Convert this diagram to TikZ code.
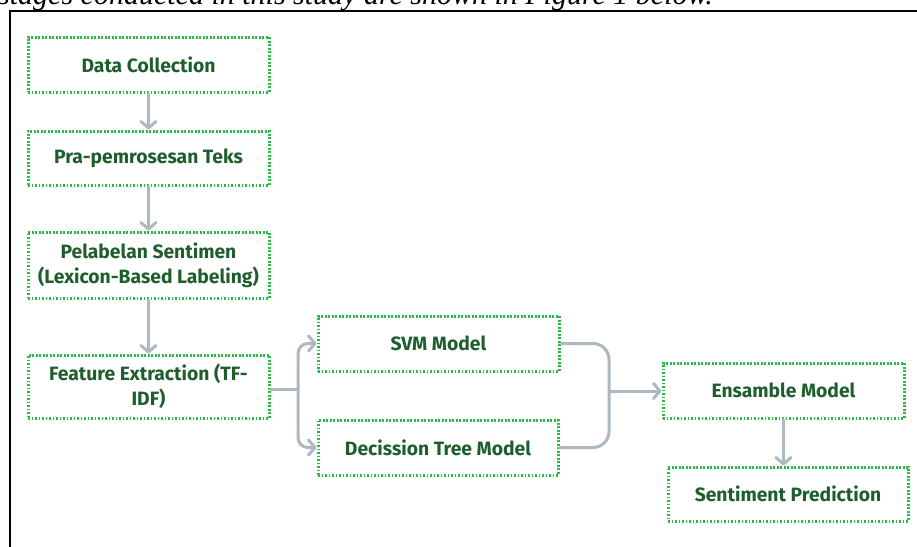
\documentclass[tikz,border=0pt]{standalone}
\usepackage{fontspec}
\setmainfont{Fira Sans}
\newfontfamily\capserif{Liberation Serif}
\usetikzlibrary{arrows.meta}
\definecolor{dotgreen}{HTML}{2DBB48}
\definecolor{txtgreen}{HTML}{1E5E2C}
\definecolor{arrgray}{HTML}{AEB8C0}
\tikzset{
  stepbox/.style={draw=dotgreen, line width=3pt, dash pattern=on 1.9pt off 1.6pt,
    minimum width=241pt, inner sep=0pt, align=center, text=txtgreen,
    font=\bfseries\fontsize{19.3}{25}\selectfont},
  flow/.style={draw=arrgray, line width=3pt, line cap=round,
    -{Straight Barb[length=6.5pt,width=15pt,line cap=round,line join=round]}},
  plain/.style={draw=arrgray, line width=3pt, line cap=round}
}
\begin{document}
\begin{tikzpicture}[x=1pt,y=-1pt]
\useasboundingbox (0,0) rectangle (917,546);
\node[anchor=base west, inner sep=0pt] (cap) at (-2,4.5)
  {\capserif\itshape\fontsize{30}{30}\selectfont stages conducted in this study are shown in Figure 1 below.};
\draw[line width=1.3pt] (10,547) -- (10,11) -- (918,11);

\node[stepbox, minimum height=55pt] (dc) at (148.5,64.5) {Data Collection};
\node[stepbox, minimum height=54pt] (pp) at (148.5,158) {Pra-pemrosesan Teks};
\node[stepbox, minimum height=66pt] (pl) at (148.5,265) {Pelabelan Sentimen\\(Lexicon-Based Labeling)};
\node[stepbox, minimum height=63pt] (fe) at (148.5,386.5) {Feature Extraction (TF-\\IDF)};
\node[stepbox, minimum height=55pt] (svm) at (438.5,343.5) {SVM Model};
\node[stepbox, minimum height=55pt, minimum width=240pt] (dt) at (438,447.5) {Decission Tree Model};
\node[stepbox, minimum height=55pt] (ens) at (783.5,390.5) {Ensamble Model};
\node[stepbox, minimum height=54pt, minimum width=240pt] (sp) at (788,494) {Sentiment Prediction};

\coordinate (br) at (298,389);
\coordinate (mg) at (609,391);

\draw[flow] (dc.south) -- (pp.north);
\draw[flow] (pp.south) -- (pl.north);
\draw[flow] (pl.south) -- (fe.north);
\draw[plain] (fe.east |- br) -- (br);
\draw[flow, rounded corners=10pt] (br) |- (svm.west);
\draw[flow, rounded corners=10pt] (br) |- (dt.west);
\draw[plain, rounded corners=16pt] (svm.east) -| (mg);
\draw[plain, rounded corners=16pt] (dt.east) -| (mg);
\draw[flow] (mg) -- (mg -| ens.west);
\draw[flow] (ens.south) -- (ens.south |- sp.north);
\end{tikzpicture}
\end{document}
